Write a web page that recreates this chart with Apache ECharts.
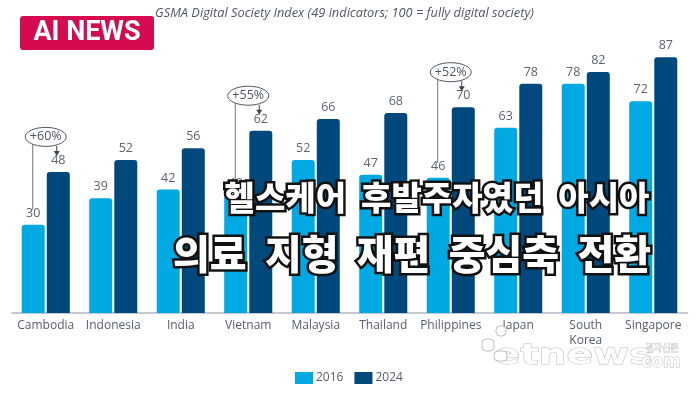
<!DOCTYPE html>
<html><head><meta charset="utf-8">
<script src="https://cdn.jsdelivr.net/npm/echarts@6/dist/echarts.min.js"></script>
<style>html,body{margin:0;padding:0;background:#fff}#c{width:700px;height:394px}</style>
</head><body><div id="c"></div>
<script>
const categories = ['Cambodia','Indonesia','India','Vietnam','Malaysia','Thailand','Philippines','Japan','South\nKorea','Singapore'];
const values2016 = [30,39,42,40,52,47,46,63,78,72];
const values2024 = [48,52,56,62,66,68,70,78,82,87];
const seriesNames = ['2016','2024'];
const annCats = [0,3,6];
const annLabels = ['+60%','+55%','+52%'];
const titleText = 'GSMA Digital Society Index (49 indicators; 100 = fully digital society)';
const headline1 = '헬스케어  후발주자였던  아시아';
const headline2 = '의료  지형  재편  중심축  전환';

const LIGHT = '#00a9e2', DARK = '#01497c', TXT = '#5a6472';
const chart = echarts.init(document.getElementById('c'), null, {renderer:'canvas'});
const labelCfg = {show:true, position:'top', distance:5, color:TXT, fontSize:12.5, fontFamily:'Open Sans'};
chart.setOption({
  animation:false,
  grid:{left:12, right:13, top:19, bottom:81},
  xAxis:{type:'category', data:categories,
    axisLine:{lineStyle:{color:'#c6c8cd', width:2}}, axisTick:{show:false},
    axisLabel:{color:'#555f6b', fontSize:12, fontFamily:'Open Sans', margin:5, lineHeight:15, interval:0}},
  yAxis:{type:'value', min:0, max:100, show:false, splitLine:{show:false}},
  legend:{left:290, top:367, itemWidth:18, itemHeight:12, itemGap:11, icon:'rect',
    textStyle:{color:'#555f6b', fontSize:12, fontFamily:'Open Sans', padding:[0,0,0,-2]}},
  series:[
    {name:seriesNames[0], type:'bar', data:values2016, barWidth:23, barGap:'9%',
     itemStyle:{color:LIGHT, borderRadius:[3,3,0,0]}, label:labelCfg},
    {name:seriesNames[1], type:'bar', data:values2024, barWidth:23,
     itemStyle:{color:DARK, borderRadius:[3,3,0,0]}, label:labelCfg}
  ]
});

const g = [];
// badge and title
g.push({type:'rect', shape:{x:20,y:16,width:134,height:34,r:3}, style:{fill:'#d60b4f'}, z:50});
g.push({type:'text', x:87, y:33, style:{text:'AI NEWS', fill:'#fff', font:'bold 27px Roboto', align:'center', verticalAlign:'middle'}, z:51});
g.push({type:'text', x:155, y:13, style:{text:titleText, fill:'#4d5866', font:'italic 12.8px "Open Sans"', align:'left', verticalAlign:'middle'}, z:50});

// annotations
annCats.forEach((ci, k) => {
  const cx = chart.convertToPixel({xAxisIndex:0}, ci);
  const darkTop = chart.convertToPixel({yAxisIndex:0}, values2024[ci]);
  const lightTop = chart.convertToPixel({yAxisIndex:0}, values2016[ci]);
  const ey = darkTop - 35;
  const lx = cx - 13, ax = cx + 11;
  g.push({type:'line', shape:{x1:lx, y1:ey+7, x2:lx, y2:lightTop-15}, style:{stroke:'#6b7380', lineWidth:1}, z:20});
  g.push({type:'line', shape:{x1:ax, y1:ey+9, x2:ax, y2:darkTop-20}, style:{stroke:'#3d4550', lineWidth:1}, z:20});
  g.push({type:'polygon', shape:{points:[[ax-3,darkTop-21],[ax+3,darkTop-21],[ax,darkTop-16]]}, style:{fill:'#3d4550'}, z:20});
  g.push({type:'ellipse', shape:{cx:cx, cy:ey, rx:20.5, ry:9.5}, style:{fill:'#fff', stroke:'#4d5560', lineWidth:1}, z:21});
  g.push({type:'text', x:cx, y:ey, style:{text:annLabels[k], fill:'#4a5562', font:'12.5px "Open Sans"', align:'center', verticalAlign:'middle'}, z:22});
});

// headline overlay: detached soft shadow pass, then crisp outlined text
const heads = [[headline1, 437, 197, 33],[headline2, 412, 254, 40]];
const OFF = 2000;
heads.forEach(([t,x,y,fs]) => {
  for (let p = 0; p < 2; p++) {
    g.push({type:'text', x:x-OFF, y:y, z:98, style:{text:t, fill:'#000', stroke:'#000', lineWidth:10,
      font:'900 '+fs+'px "Noto Sans CJK KR"', align:'center', verticalAlign:'middle',
      shadowBlur:26, shadowColor:'rgba(0,0,0,0.8)', shadowOffsetX:OFF, shadowOffsetY:2}});
  }
  g.push({type:'text', x:x, y:y, z:100, style:{text:t, fill:'#fff', stroke:'#111', lineWidth:5, strokeFirst:true,
    font:'900 '+fs+'px "Noto Sans CJK KR"', align:'center', verticalAlign:'middle'}});
});

// watermark
const WF = 'rgba(255,255,255,0.92)', WS = 'rgba(170,170,170,0.75)';
g.push({type:'text', x:573, y:357, scaleY:0.72, z:90, style:{text:'etnews', fill:WF, stroke:WS, lineWidth:1.2,
  font:'bold 39px "DejaVu Sans"', align:'center', verticalAlign:'middle'}});
g.push({type:'text', x:661, y:363, z:90, style:{text:'com', fill:WF, stroke:WS, lineWidth:1,
  font:'bold 17px "DejaVu Sans"', align:'center', verticalAlign:'middle'}});
g.push({type:'text', x:662, y:348, z:90, style:{text:'전자신문', fill:WF, stroke:WS, lineWidth:0.8,
  font:'9px "Noto Sans CJK KR"', align:'center', verticalAlign:'middle'}});
g.push({type:'rect', shape:{x:482,y:339,width:12,height:12,r:4}, z:90, style:{fill:WF, stroke:WS}});
g.push({type:'rect', shape:{x:496,y:326,width:10,height:10,r:4}, z:90, style:{fill:WF, stroke:WS}});
g.push({type:'rect', shape:{x:494,y:351,width:13,height:10,r:4}, z:90, style:{fill:WF, stroke:WS}});

chart.setOption({graphic:g});
</script></body></html>
